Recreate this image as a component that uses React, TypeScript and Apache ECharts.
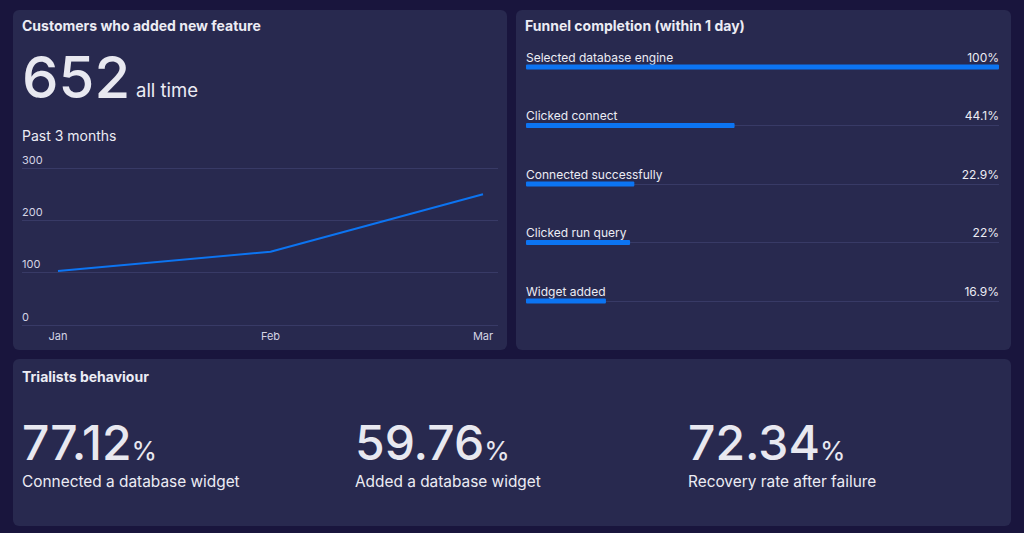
import React, { useEffect, useRef } from "react";
import * as echarts from "echarts";

const months = ["Jan", "Feb", "Mar"];
const customers = [103, 140, 250];
const allTimeTotal = "652";
const yMax = 300;
const yStep = 100;

const funnelSteps = [
  "Selected database engine",
  "Clicked connect",
  "Connected successfully",
  "Clicked run query",
  "Widget added",
];
const funnelPct = [100, 44.1, 22.9, 22, 16.9];

const trialValues = ["77.12", "59.76", "72.34"];
const trialLabels = [
  "Connected a database widget",
  "Added a database widget",
  "Recovery rate after failure",
];

const FONT = "Inter, 'Noto Sans', sans-serif";
const BG = "#19153d";
const PANEL = "#28294f";
const TEXT = "#ececf4";
const BIG = "#e8e8f0";
const SUB = "#d4d4e4";
const GRIDC = "#383a66";
const BLUE = "#0c74f2";

export default function App() {
  const ref = useRef<HTMLDivElement>(null);
  useEffect(() => {
    document.body.style.margin = "0";
    const chart = echarts.init(ref.current!, undefined, { renderer: "svg" });

    const panels = [
      { x: 13, y: 10, w: 494, h: 340 },
      { x: 516, y: 10, w: 495, h: 340 },
      { x: 13, y: 359, w: 998, h: 167 },
    ].map((p) => ({
      type: "rect",
      z: -10,
      shape: { x: p.x, y: p.y, width: p.w, height: p.h, r: 6 },
      style: { fill: PANEL },
      silent: true,
    }));

    const txt = (x: number, y: number, text: string, size: number, weight: any = 400, fill = TEXT) => ({
      type: "text",
      x,
      y,
      style: {
        text,
        fill,
        fontFamily: FONT,
        fontSize: size,
        fontWeight: weight,
        align: "left",
        verticalAlign: "middle",
      },
    });

    const trialEls: any[] = [];
    trialValues.forEach((v, i) => {
      const x0 = 22 + i * 333;
      trialEls.push({
        type: "text",
        x: x0,
        y: 466,
        style: {
          text: `{a|${v}}{b|%}`,
          fill: BIG,
          fontFamily: FONT,
          align: "left",
          verticalAlign: "bottom",
          rich: {
            a: { fontSize: 48, fontWeight: 500, fill: BIG, fontFamily: FONT, lineHeight: 48, verticalAlign: "bottom" },
            b: { fontSize: 26, fontWeight: 400, fill: BIG, fontFamily: FONT, lineHeight: 26, verticalAlign: "bottom", padding: [0, 0, 3, 0] },
          },
        },
      });
      trialEls.push(txt(x0, 481.5, trialLabels[i], 15.4, 400, TEXT));
    });

    const option: any = {
      animation: false,
      backgroundColor: BG,
      textStyle: { fontFamily: FONT },
      graphic: {
        elements: [
          ...panels,
          txt(22, 25, "Customers who added new feature", 14, 700),
          txt(22, 77, allTimeTotal, 58, 500, BIG),
          txt(136, 90, "all time", 18.5, 400),
          txt(22, 135, "Past 3 months", 14, 400),
          txt(525, 25, "Funnel completion (within 1 day)", 14, 700),
          txt(22, 376, "Trialists behaviour", 14, 700),
          ...trialEls,
        ],
      },
      grid: [
        { left: 22, right: 526, top: 168, bottom: 208 },
        { left: 58, right: 541, top: 168, bottom: 208 },
        { left: 526, right: 25, top: 67, bottom: 232 },
      ],
      xAxis: [
        { gridIndex: 0, type: "value", min: 0, max: 1, show: false },
        {
          gridIndex: 1,
          type: "category",
          data: months,
          boundaryGap: false,
          axisLine: { show: false },
          axisTick: { show: false },
          splitLine: { show: false },
          axisLabel: { color: SUB, fontSize: 11, margin: 5, fontFamily: FONT },
        },
        { gridIndex: 2, type: "value", min: 0, max: 100, show: false },
      ],
      yAxis: [
        {
          gridIndex: 0,
          type: "value",
          min: 0,
          max: yMax,
          interval: yStep,
          axisLine: { show: false },
          axisTick: { show: false },
          splitLine: { lineStyle: { color: GRIDC, width: 1 } },
          axisLabel: {
            inside: true,
            margin: 0,
            verticalAlign: "bottom",
            padding: [0, 0, 3, 0],
            color: SUB,
            fontSize: 11,
            fontFamily: FONT,
          },
        },
        { gridIndex: 1, type: "value", min: 0, max: yMax, show: false },
        {
          gridIndex: 2,
          type: "category",
          data: funnelSteps,
          inverse: true,
          boundaryGap: false,
          axisLine: { show: false },
          axisTick: { show: false },
          splitLine: { show: true, lineStyle: { color: GRIDC, width: 1 } },
          axisLabel: {
            inside: true,
            margin: 0,
            verticalAlign: "bottom",
            padding: [0, 0, 4, 0],
            color: TEXT,
            fontSize: 12,
            fontFamily: FONT,
          },
        },
        {
          gridIndex: 2,
          type: "category",
          data: funnelSteps,
          inverse: true,
          boundaryGap: false,
          position: "right",
          axisLine: { show: false },
          axisTick: { show: false },
          splitLine: { show: false },
          axisLabel: {
            inside: true,
            margin: 0,
            verticalAlign: "bottom",
            padding: [0, 0, 4, 0],
            color: TEXT,
            fontSize: 12,
            fontFamily: FONT,
            formatter: (_v: string, i: number) => `${funnelPct[i]}%`,
          },
        },
      ],
      series: [
        {
          type: "line",
          xAxisIndex: 1,
          yAxisIndex: 1,
          data: customers,
          showSymbol: false,
          lineStyle: { color: BLUE, width: 2 },
          itemStyle: { color: BLUE },
        },
        {
          type: "bar",
          xAxisIndex: 2,
          yAxisIndex: 2,
          data: funnelPct,
          barWidth: 5,
          itemStyle: { color: BLUE, borderRadius: 1 },
        },
      ],
    };
    chart.setOption(option);
    return () => chart.dispose();
  }, []);
  return (
    <div
      ref={ref}
      style={{ position: "fixed", left: 0, top: 0, width: 1024, height: 533 }}
    />
  );
}
